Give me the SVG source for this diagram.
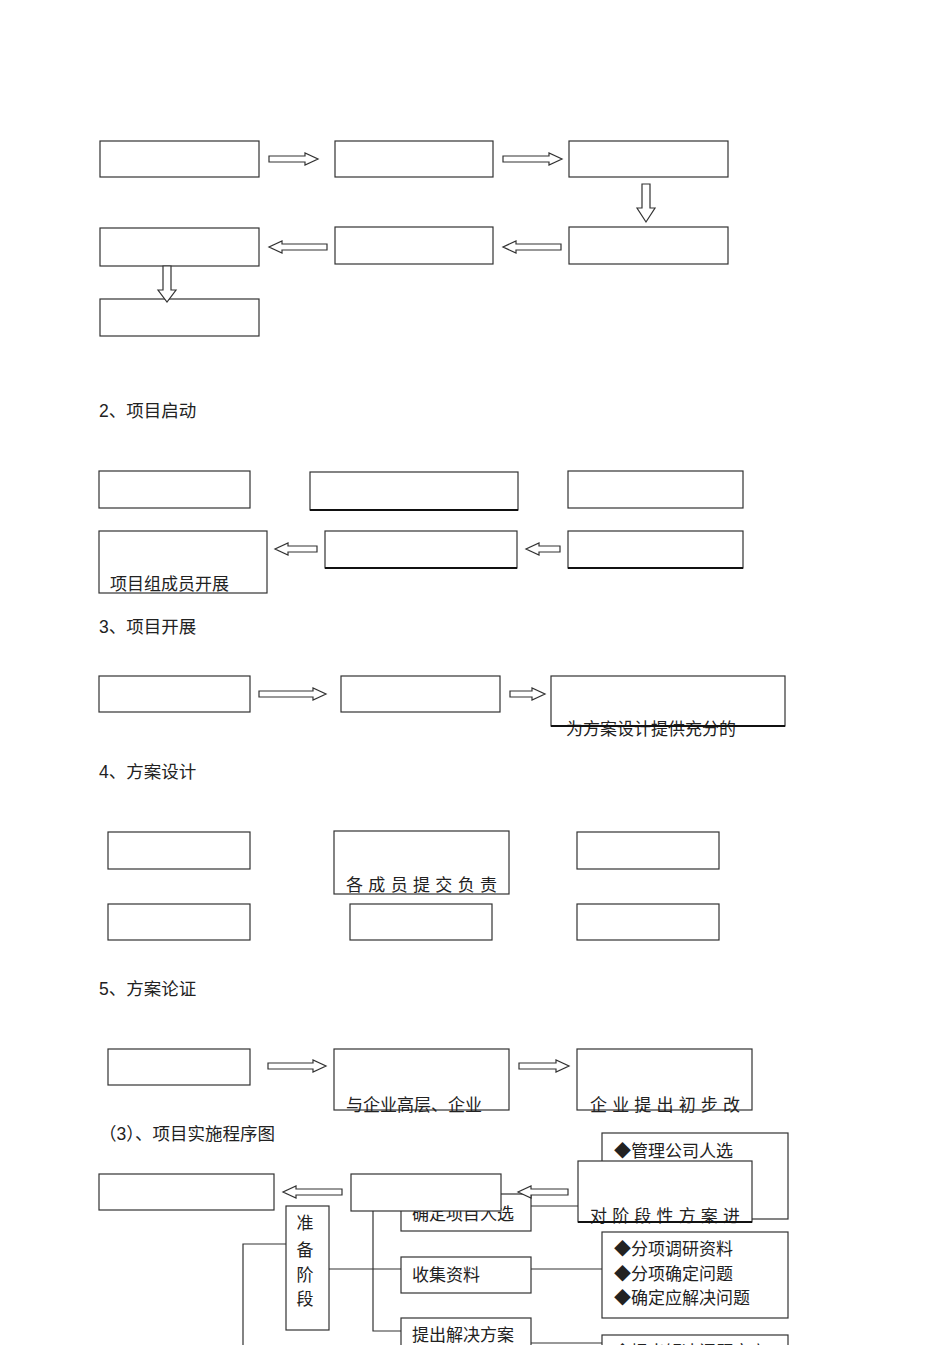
<svg xmlns="http://www.w3.org/2000/svg" width="950" height="1345" viewBox="0 0 950 1345">
<defs>
<style>
.b{fill:#fff;stroke:#333;stroke-width:1.2}
.a{fill:#fff;stroke:#333;stroke-width:1.2;stroke-linejoin:miter}
.t{font-family:"Noto Sans CJK SC","Liberation Sans",sans-serif;font-size:17px;fill:#222}
.h{font-family:"Liberation Sans","Noto Sans CJK SC",sans-serif;font-size:17.5px;fill:#222}
.l{fill:none;stroke:#333;stroke-width:1.2}
.k{fill:none;stroke:#111;stroke-width:2.2}
</style>
</defs>
<rect width="950" height="1345" fill="#fff"/>

<!-- Section 1 -->
<g id="s1-n1"><rect class="b" x="100" y="141" width="159" height="36"/></g>
<g id="s1-n2"><rect class="b" x="335" y="141" width="158" height="36"/></g>
<g id="s1-n3"><rect class="b" x="569" y="141" width="159" height="36"/></g>
<g id="s1-n4"><rect class="b" x="100" y="228" width="159" height="38"/></g>
<g id="s1-n5"><rect class="b" x="335" y="227" width="158" height="37"/></g>
<g id="s1-n6"><rect class="b" x="569" y="227" width="159" height="37"/></g>
<g id="s1-n7"><rect class="b" x="100" y="299" width="159" height="37"/></g>

<!-- Section 2 -->
<text class="h" x="99" y="417">2、项目启动</text>
<g id="s2-n1"><rect class="b" x="99" y="471" width="151" height="37"/></g>
<g id="s2-n2"><rect class="b" x="310" y="472" width="208" height="38"/><line class="k" x1="310" y1="510" x2="518" y2="510"/></g>
<g id="s2-n3"><rect class="b" x="568" y="471" width="175" height="37"/></g>
<g id="s2-n4"><rect class="b" x="99" y="531" width="168" height="62"/><text class="t" x="110" y="590" font-size="18">项目组成员开展</text></g>
<g id="s2-n5"><rect class="b" x="325" y="531" width="192" height="37"/><line class="k" x1="325" y1="568" x2="517" y2="568"/></g>
<g id="s2-n6"><rect class="b" x="568" y="531" width="175" height="37"/><line class="k" x1="568" y1="568" x2="743" y2="568"/></g>

<!-- Section 3 -->
<text class="h" x="99" y="633">3、项目开展</text>
<g id="s3-n1"><rect class="b" x="99" y="676" width="151" height="36"/></g>
<g id="s3-n2"><rect class="b" x="341" y="676" width="159" height="36"/></g>
<g id="s3-n3"><rect class="b" x="551" y="676" width="234" height="50"/><text class="t" x="566" y="735" font-size="18">为方案设计提供充分的</text><line class="k" x1="551" y1="726" x2="785" y2="726"/></g>

<!-- Section 4 -->
<text class="h" x="99" y="778">4、方案设计</text>
<g id="s4-n1"><rect class="b" x="108" y="832" width="142" height="37"/></g>
<g id="s4-n2"><rect class="b" x="334" y="831" width="175" height="63"/><text class="t" x="346" y="891" textLength="151" lengthAdjust="spacing">各成员提交负责</text></g>
<g id="s4-n3"><rect class="b" x="577" y="832" width="142" height="37"/></g>
<g id="s4-n4"><rect class="b" x="108" y="904" width="142" height="36"/></g>
<g id="s4-n5"><rect class="b" x="350" y="904" width="142" height="36"/></g>
<g id="s4-n6"><rect class="b" x="577" y="904" width="142" height="36"/></g>

<!-- Section 5 -->
<text class="h" x="99" y="995">5、方案论证</text>
<g id="s5-n1"><rect class="b" x="108" y="1049" width="142" height="36"/></g>
<g id="s5-n2"><rect class="b" x="334" y="1049" width="175" height="61"/><text class="t" x="346" y="1111" font-size="18">与企业高层、企业</text></g>
<g id="s5-n3"><rect class="b" x="577" y="1049" width="175" height="61"/><text class="t" x="590" y="1111" textLength="150" lengthAdjust="spacing">企业提出初步改</text></g>

<!-- Section (3) -->
<text class="h" x="99" y="1140">（3）、项目实施程序图</text>
<g id="p-a"><rect class="b" x="99" y="1174" width="175" height="36"/></g>
<g id="p-confirm"><rect class="b" x="401" y="1194" width="130" height="37"/><text class="t" x="412" y="1220">确定项目人选</text></g>
<g id="p-b"><rect class="b" x="351" y="1174" width="150" height="37"/></g>
<g id="p-r1"><rect class="b" x="602" y="1133" width="186" height="86"/><text class="t" x="614" y="1157">◆管理公司人选</text></g>
<g id="p-eval"><rect class="b" x="578" y="1161" width="174" height="61"/><text class="t" x="590" y="1222" textLength="150" lengthAdjust="spacing">对阶段性方案进</text><line class="k" x1="578" y1="1222" x2="752" y2="1222"/></g>
<g id="p-prep"><rect class="b" x="286" y="1206" width="43" height="124"/>
<text class="t" x="305" y="1229" text-anchor="middle">准</text>
<text class="t" x="305" y="1256" text-anchor="middle">备</text>
<text class="t" x="305" y="1281" text-anchor="middle">阶</text>
<text class="t" x="305" y="1305" text-anchor="middle">段</text></g>
<g id="p-collect"><rect class="b" x="401" y="1257" width="130" height="36"/><text class="t" x="412" y="1281">收集资料</text></g>
<g id="p-r2"><rect class="b" x="602" y="1232" width="186" height="86"/>
<text class="t" x="614" y="1255">◆分项调研资料</text>
<text class="t" x="614" y="1280">◆分项确定问题</text>
<text class="t" x="614" y="1304">◆确定应解决问题</text></g>
<g id="p-solve"><rect class="b" x="401" y="1318" width="130" height="40"/><text class="t" x="412" y="1341">提出解决方案</text></g>
<g id="p-r3"><rect class="b" x="602" y="1335" width="186" height="30"/><text class="t" x="614" y="1358">◆提出解决问题方案</text></g>

<!-- Connectors -->
<g id="connectors">
<polygon class="a" points="269,156 305,156 305,153 318,159 305,165 305,162 269,162"/>
<polygon class="a" points="503,156 549,156 549,153 562,159 549,165 549,162 503,162"/>
<polygon class="a" points="642,184 650,184 650,208 655,208 646,222 637,208 642,208"/>
<polygon class="a" points="561,244 516,244 516,241 503,247 516,253 516,250 561,250"/>
<polygon class="a" points="327,244 282,244 282,241 269,247 282,253 282,250 327,250"/>
<polygon class="a" points="163,266 171,266 171,290 176,290 167,302 158,290 163,290"/>
<polygon class="a" points="317,546 288,546 288,543 275,549 288,555 288,552 317,552"/>
<polygon class="a" points="560,546 539,546 539,543 526,549 539,555 539,552 560,552"/>
<polygon class="a" points="259,691 313,691 313,688 326,694 313,700 313,697 259,697"/>
<polygon class="a" points="510,691 532,691 532,688 545,694 532,700 532,697 510,697"/>
<polygon class="a" points="268,1063 313,1063 313,1060 326,1066 313,1072 313,1069 268,1069"/>
<polygon class="a" points="519,1063 556,1063 556,1060 569,1066 556,1072 556,1069 519,1069"/>
<polygon class="a" points="342,1189 296,1189 296,1186 283,1192 296,1198 296,1195 342,1195"/>
<polygon class="a" points="568,1189 531,1189 531,1186 518,1192 531,1198 531,1195 568,1195"/>
<polyline class="l" points="531,1206 578,1206"/>
<polyline class="l" points="243,1345 243,1244 286,1244"/>
<polyline class="l" points="329,1269 401,1269"/>
<polyline class="l" points="373,1211 373,1331 401,1331"/>
<polyline class="l" points="531,1269 602,1269"/>
<polyline class="l" points="531,1343 602,1343"/>
</g>
</svg>
